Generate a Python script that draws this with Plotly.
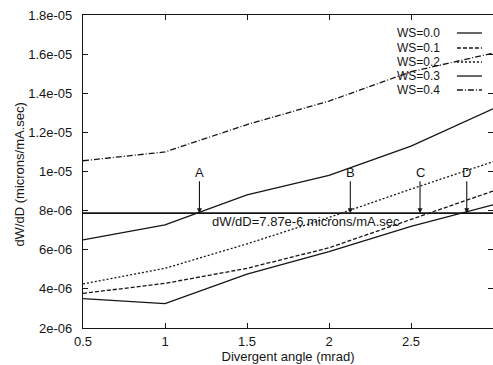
import plotly.graph_objects as go

# Data
angle = [0.5, 1.0, 1.5, 2.0, 2.5, 3.0]
ws_labels = ["WS=0.0", "WS=0.1", "WS=0.2", "WS=0.3", "WS=0.4"]
ws00 = [3.50e-6, 3.25e-6, 4.75e-6, 5.90e-6, 7.20e-6, 8.30e-6]
ws01 = [3.77e-6, 4.28e-6, 5.05e-6, 6.10e-6, 7.55e-6, 9.00e-6]
ws02 = [4.25e-6, 5.05e-6, 6.30e-6, 7.65e-6, 9.10e-6, 10.50e-6]
ws03 = [6.50e-6, 7.27e-6, 8.80e-6, 9.80e-6, 11.30e-6, 13.20e-6]
ws04 = [10.55e-6, 11.00e-6, 12.40e-6, 13.60e-6, 15.10e-6, 16.05e-6]
threshold = 7.87e-6
threshold_label = "dW/dD=7.87e-6 microns/mA.sec"
marker_labels = ["A", "B", "C", "D"]
marker_x = [1.21, 2.13, 2.555, 2.84]
x_ticks = [0.5, 1.0, 1.5, 2.0, 2.5, 3.0]
x_ticktext = ["0.5", "1", "1.5", "2", "2.5", "3"]
y_ticks = [2e-6, 4e-6, 6e-6, 8e-6, 1e-5, 1.2e-5, 1.4e-5, 1.6e-5, 1.8e-5]
y_ticktext = ["2e-06", "4e-06", "6e-06", "8e-06", "1e-05", "1.2e-05", "1.4e-05", "1.6e-05", "1.8e-05"]
x_title = "Divergent angle (mrad)"
y_title = "dW/dD (microns/mA.sec)"

series = [ws00, ws01, ws02, ws03, ws04]
dashes = ["solid", "4px,2px", "2px,2px", "solid", "6px,2px,1px,2px"]
ink = "#151515"
font_family = "Liberation Sans, Arial, Helvetica, sans-serif"

fig = go.Figure()
for lab, ys, d in zip(ws_labels, series, dashes):
    fig.add_trace(go.Scatter(x=angle, y=ys, mode="lines", name=lab,
                             line=dict(color=ink, width=1.3, dash=d),
                             showlegend=False, hoverinfo="skip"))

# threshold line
fig.add_trace(go.Scatter(x=[angle[0], angle[-1]], y=[threshold, threshold], mode="lines",
                         line=dict(color=ink, width=1.6), showlegend=False, hoverinfo="skip"))

annotations = []
shapes = []
# threshold text
annotations.append(dict(x=0.544, xref="paper", y=threshold, yref="y", yshift=-8,
                        text=threshold_label, showarrow=False, xanchor="center", yanchor="middle",
                        font=dict(family=font_family, size=13, color=ink)))
# arrows A-D
for lab, xv in zip(marker_labels, marker_x):
    annotations.append(dict(x=xv, y=threshold, xref="x", yref="y", text=lab,
                            showarrow=True, ax=0, ay=-41, arrowhead=2, arrowsize=0.9,
                            arrowwidth=1.1, arrowcolor=ink,
                            font=dict(family=font_family, size=13, color=ink)))

# y-axis title placed like the original
annotations.append(dict(x=-0.1537, y=0.49, xref="paper", yref="paper", text=y_title,
                        textangle=-90, showarrow=False, xanchor="center", yanchor="middle",
                        font=dict(family=font_family, size=13, color=ink)))

# manual legend (text left, sample right, like the original)
leg_y = [0.9425, 0.8946, 0.8498, 0.805, 0.7604]
for lab, d, yy in zip(ws_labels, dashes, leg_y):
    annotations.append(dict(x=0.8756, y=yy, xref="paper", yref="paper", text=lab,
                            showarrow=False, xanchor="right", yanchor="middle",
                            font=dict(family=font_family, size=12, color=ink)))
    shapes.append(dict(type="line", xref="paper", yref="paper", x0=0.912, x1=0.973,
                       y0=yy, y1=yy, line=dict(color=ink, width=1.3, dash=d)))

axis_common = dict(showline=True, linecolor=ink, linewidth=1.3, mirror="ticks",
                   ticks="inside", ticklen=5, tickcolor=ink, showgrid=False, zeroline=False,
                   tickfont=dict(family=font_family, size=13, color=ink))

fig.update_layout(
    width=493, height=365,
    margin=dict(l=83, r=0, t=15, b=37),
    paper_bgcolor="white", plot_bgcolor="white",
    annotations=annotations, shapes=shapes,
    xaxis=dict(range=[0.5, 3.0], tickvals=x_ticks, ticktext=x_ticktext,
               ticklabelstandoff=1,
               title=dict(text=x_title, standoff=2,
                          font=dict(family=font_family, size=13, color=ink)),
               **axis_common),
    yaxis=dict(range=[2e-6, 1.8e-5], tickvals=y_ticks, ticktext=y_ticktext,
               ticklabelstandoff=7,
               **axis_common),
)

fig.write_html("out.html")
